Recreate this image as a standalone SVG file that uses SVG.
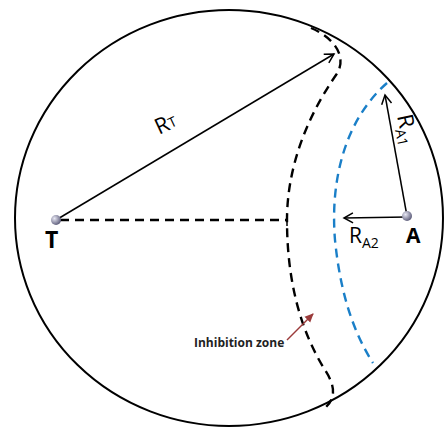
<svg xmlns="http://www.w3.org/2000/svg" width="444" height="428" viewBox="0 0 444 428">
<style>
.line{stroke:#000;stroke-width:1.5;fill:none}
.dash{stroke:#000;stroke-width:2.4;fill:none;stroke-dasharray:9 6}
.lbl{font-family:"Open Sans","Liberation Sans",sans-serif;fill:#000}
</style>
<defs>
<marker id="arr" markerWidth="12" markerHeight="12" refX="10" refY="6" orient="auto" markerUnits="userSpaceOnUse">
<path d="M1,1 L10,6 L1,11" fill="none" stroke="#000" stroke-width="1.5"/>
</marker>
<marker id="arrRed" markerWidth="10" markerHeight="10" refX="8" refY="5" orient="auto" markerUnits="userSpaceOnUse">
<path d="M0,1 L9,5 L0,9 Z" fill="#9b3b3b"/>
</marker>
<radialGradient id="dot" cx="0.35" cy="0.35" r="0.7">
<stop offset="0" stop-color="#e8e8f4"/>
<stop offset="1" stop-color="#5a5a78"/>
</radialGradient>
</defs>
<rect width="444" height="428" fill="#fff"/>
<g id="boundary">
<ellipse cx="229" cy="218" rx="214" ry="208" fill="none" stroke="#000" stroke-width="2"/>
</g>
<g id="zones">
<path id="inhibition-boundary" class="dash" d="M311 28 C335 38 348 58 336 75 C305 120 287 170 287 220 C287 280 300 330 325 370 C338 390 333 400 326 407"/>
<path id="a-boundary" d="M387 83 C345 120 330 180 335 240 C340 290 352 330 373 363" fill="none" stroke="#1a7fc8" stroke-width="2.4" stroke-dasharray="9 6"/>
</g>
<g id="connectors">
<line class="line" x1="56" y1="220" x2="334" y2="54" marker-end="url(#arr)"/>
<line class="dash" x1="60" y1="220" x2="287" y2="220" stroke-width="1.8"/>
<line class="line" x1="287" y1="214" x2="287" y2="226"/>
<line class="line" x1="407" y1="216" x2="385" y2="95" marker-end="url(#arr)"/>
<line class="line" x1="407" y1="217" x2="344" y2="218" marker-end="url(#arr)"/>
<line x1="287" y1="340" x2="313" y2="314" stroke="#9b3b3b" stroke-width="1.5" marker-end="url(#arrRed)"/>
</g>
<g id="T">
<circle cx="56" cy="220" r="5" fill="url(#dot)"/>
<text class="lbl" x="45" y="248" font-size="23" font-weight="bold">T</text>
</g>
<g id="A">
<circle cx="407" cy="216" r="5" fill="url(#dot)"/>
<text class="lbl" x="406" y="243" font-size="21" font-weight="bold">A</text>
</g>
<g id="labels">
<text class="lbl" transform="translate(159,135) rotate(-25)" font-size="22">R<tspan font-size="14" dy="-1">T</tspan></text>
<text class="lbl" transform="translate(397,116) rotate(78)" font-size="22">R<tspan font-size="14" dy="5">A1</tspan></text>
<text class="lbl" x="349" y="243" font-size="21">R<tspan font-size="14" dy="5">A2</tspan></text>
<text x="194" y="347" font-family="'Open Sans','Liberation Sans',sans-serif" font-size="12" font-weight="bold" fill="#222">Inhibition zone</text>
</g>
</svg>
